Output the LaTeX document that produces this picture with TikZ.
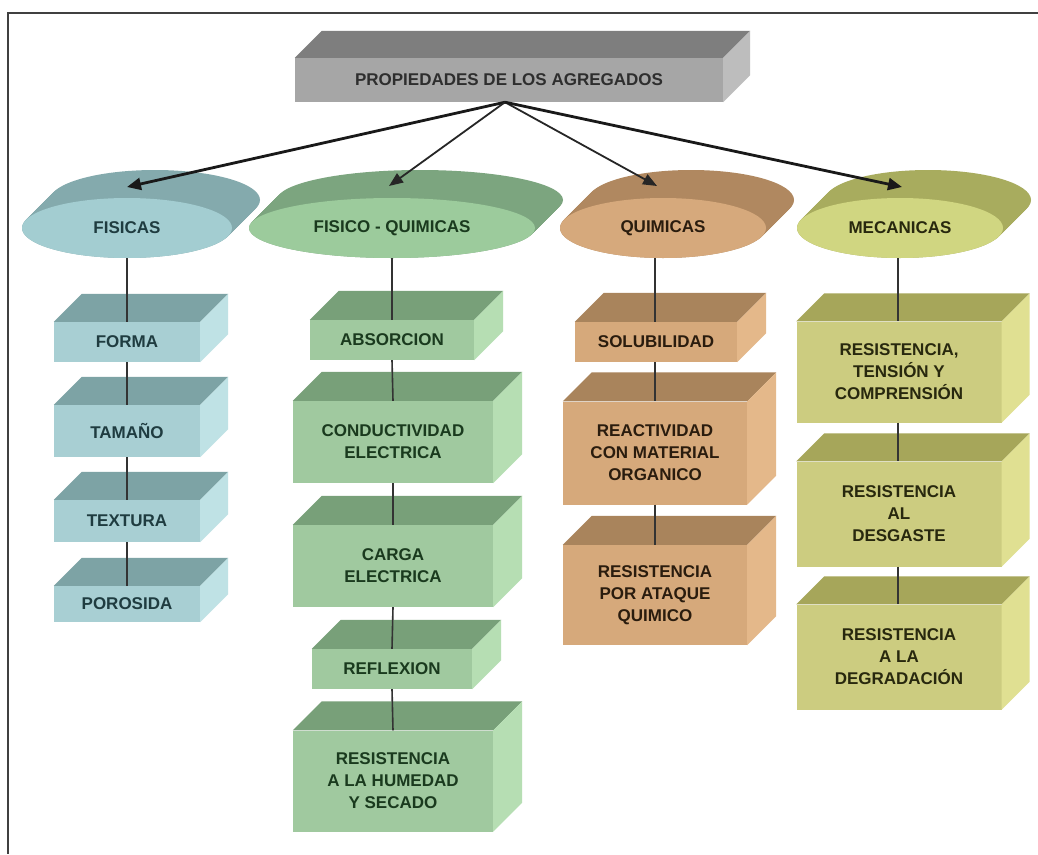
\documentclass[tikz,border=0pt]{standalone}
\usepackage{fontspec}
\setmainfont{Liberation Sans}
\usetikzlibrary{shapes.geometric,arrows.meta,calc}

\definecolor{topF}{HTML}{A6A6A6}
\definecolor{topT}{HTML}{7E7E7E}
\definecolor{topS}{HTML}{BDBDBD}
\definecolor{topTx}{HTML}{2E2E2E}

\definecolor{fisE}{HTML}{A3CDD1}
\definecolor{fisB}{HTML}{84AAAD}
\definecolor{fisF}{HTML}{A8CFD3}
\definecolor{fisT}{HTML}{7DA3A5}
\definecolor{fisS}{HTML}{BFE2E5}
\definecolor{fisTx}{HTML}{1F3C40}

\definecolor{fqE}{HTML}{9CCB9C}
\definecolor{fqB}{HTML}{7CA57F}
\definecolor{fqF}{HTML}{A0C99F}
\definecolor{fqT}{HTML}{78A079}
\definecolor{fqS}{HTML}{B6DEB3}
\definecolor{fqTx}{HTML}{1A3A1E}

\definecolor{quE}{HTML}{D6A97C}
\definecolor{quB}{HTML}{B08860}
\definecolor{quF}{HTML}{D6A97B}
\definecolor{quT}{HTML}{A9845C}
\definecolor{quS}{HTML}{E4B88A}
\definecolor{quTx}{HTML}{2A1C0E}

\definecolor{meE}{HTML}{D0D681}
\definecolor{meB}{HTML}{A8AC5E}
\definecolor{meF}{HTML}{CCCC80}
\definecolor{meT}{HTML}{A6A65A}
\definecolor{meS}{HTML}{E0E092}
\definecolor{meTx}{HTML}{28280E}

\tikzset{
  face/.style={draw=none, inner sep=0pt, align=center,
    font=\fontsize{17}{22}\selectfont\bfseries},
  sz/.style n args={2}{minimum width=#1pt, minimum height=#2pt},
  topbox/.style={face, fill=topF, text=topTx},
  fisbox/.style={face, fill=fisF, text=fisTx},
  fqbox/.style={face, fill=fqF, text=fqTx},
  qubox/.style={face, fill=quF, text=quTx},
  mebox/.style={face, fill=meF, text=meTx},
  disc/.style={face, ellipse, minimum height=60pt},
  arrthick/.style={line width=2.8pt, draw=black!90, -{Triangle[length=14pt,width=12pt]}},
  arrthin/.style={line width=1.8pt, draw=black!85, -{Triangle[length=14pt,width=11pt]}},
  vline/.style={line width=1.6pt, draw=black!80},
  frame/.style={line width=2pt, draw=black!75},
}

% side and top faces of a box drawn from its front node
\newcommand{\cubefaces}[4]{%
  \fill[#2] (#1.north west) -- ++(#4,-#4) -- ($(#1.north east)+(#4,-#4)$) -- (#1.north east) -- cycle;
  \fill[#3] (#1.north east) -- ++(#4,-#4) -- ($(#1.south east)+(#4,-#4)$) -- (#1.south east) -- cycle;}

% extruded ellipse: #1 name, #2 x, #3 y, #4 x radius, #5 front colour, #6 back colour, #7 text colour, #8 text
\newcommand{\discshape}[8]{%
  \foreach \k in {0,1,...,28} \fill[#6] (#2+\k,#3-\k) ellipse [x radius=#4, y radius=30];
  \node[disc, fill=#5, text=#7, minimum width=2*#4 pt] (#1) at (#2,#3) {#8};}

\begin{document}
\begin{tikzpicture}[x=1pt,y=-1pt]
\useasboundingbox (0,0) rectangle (1038,854);
\fill[white] (0,0) rectangle (1038,854);
\draw[frame] (1038,13) -- (8,13) -- (8,854);

% title box
\node[topbox, sz={428}{44}] (top) at (509,80) {PROPIEDADES DE LOS AGREGADOS};
\cubefaces{top}{topT}{topS}{27}

% category discs
\discshape{fis}{127}{228}{105}{fisE}{fisB}{fisTx}{FISICAS}
\discshape{fq}{392}{228}{143}{fqE}{fqB}{fqTx}{FISICO - QUIMICAS}
\discshape{qu}{663}{228}{103}{quE}{quB}{quTx}{QUIMICAS}
\discshape{me}{900}{228}{103}{meE}{meB}{meTx}{MECANICAS}

% FISICAS column
\node[fisbox, sz={146}{40}] (forma) at (127,342) {FORMA};
\node[fisbox, sz={146}{52}] (tamano) at (127,431) {TAMAÑO};
\node[fisbox, sz={146}{42}] (textura) at (127,521) {TEXTURA};
\node[fisbox, sz={146}{36}] (porosida) at (127,604) {POROSIDA};
\foreach \n in {forma,tamano,textura,porosida} {\cubefaces{\n}{fisT}{fisS}{28}}

% FISICO - QUIMICAS column
\node[fqbox, sz={164}{40}] (absorcion) at (392,340) {ABSORCION};
\node[fqbox, sz={200}{82}] (conduct) at (393,442) {CONDUCTIVIDAD\\ELECTRICA};
\node[fqbox, sz={200}{82}] (carga) at (393,566) {CARGA\\ELECTRICA};
\node[fqbox, sz={160}{40}] (reflexion) at (392,669) {REFLEXION};
\node[fqbox, sz={200}{101}] (humedad) at (393,781) {RESISTENCIA\\A LA HUMEDAD\\Y SECADO};
\foreach \n in {absorcion,conduct,carga,reflexion,humedad} {\cubefaces{\n}{fqT}{fqS}{29}}

% QUIMICAS column
\node[qubox, sz={162}{40}] (solub) at (656,342) {SOLUBILIDAD};
\node[qubox, sz={184}{103}] (reactiv) at (655,453) {REACTIVIDAD\\CON MATERIAL\\ORGANICO};
\node[qubox, sz={184}{100}] (ataque) at (655,595) {RESISTENCIA\\POR ATAQUE\\QUIMICO};
\foreach \n in {solub,reactiv,ataque} {\cubefaces{\n}{quT}{quS}{29}}

% MECANICAS column
\node[mebox, sz={205}{101}] (tension) at (899,372) {RESISTENCIA,\\TENSIÓN Y\\COMPRENSIÓN};
\node[mebox, sz={205}{105}] (desgaste) at (899,514) {RESISTENCIA\\AL\\DESGASTE};
\node[mebox, sz={205}{105}] (degrad) at (899,657) {RESISTENCIA\\A LA\\DEGRADACIÓN};
\foreach \n in {tension,desgaste,degrad} {\cubefaces{\n}{meT}{meS}{28}}

% vertical connectors
\draw[vline] (fis.south) -- (forma.north);
\draw[vline] (forma.south) -- (tamano.north);
\draw[vline] (tamano.south) -- (textura.north);
\draw[vline] (textura.south) -- (porosida.north);

\draw[vline] (fq.south) -- (absorcion.north);
\draw[vline] (absorcion.south) -- (conduct.north);
\draw[vline] (conduct.south) -- (carga.north);
\draw[vline] (carga.south) -- (reflexion.north);
\draw[vline] (reflexion.south) -- (humedad.north);

\draw[vline] ([xshift=-8]qu.south) -- ([xshift=-1]solub.north);
\draw[vline] ([xshift=-1]solub.south) -- (reactiv.north);
\draw[vline] (reactiv.south) -- (ataque.north);

\draw[vline] ([xshift=-2]me.south) -- ([xshift=-1]tension.north);
\draw[vline] ([xshift=-1]tension.south) -- ([xshift=-1]desgaste.north);
\draw[vline] ([xshift=-1]desgaste.south) -- ([xshift=-1]degrad.north);

% arrows from title
\coordinate (tfis) at (127,187);
\coordinate (tfq) at (389,186);
\coordinate (tqu) at (657,186);
\coordinate (tme) at (902,187);
\draw[arrthick] ([xshift=-4]top.south) -- (tfis);
\draw[arrthin] ([xshift=-4]top.south) -- (tfq);
\draw[arrthin] ([xshift=-4]top.south) -- (tqu);
\draw[arrthick] ([xshift=-4]top.south) -- (tme);
\end{tikzpicture}
\end{document}
